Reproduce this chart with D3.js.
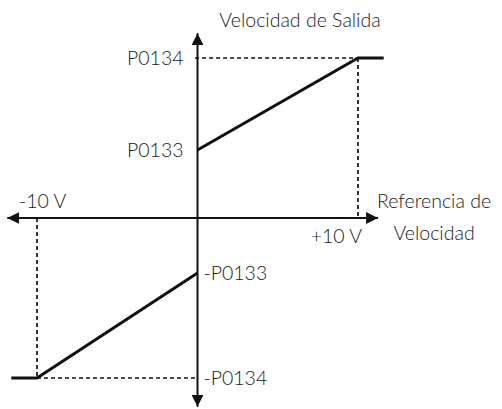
<!DOCTYPE html>
<html>
<head>
<meta charset="utf-8">
<script src="https://cdn.jsdelivr.net/npm/d3@7"></script>
<style>
  html, body { margin: 0; padding: 0; background: #fff; }
  svg text { font-family: Lato, "Open Sans", sans-serif; font-weight: 300; fill: #1a1a1a; }
</style>
</head>
<body>
<div id="chart"></div>
<script>
// Reference voltage (V) and output speed (% of P0134)
const upperCurve = [[0, 42.5], [10, 100], [11.6, 100]]
const lowerCurve = [[-11.6, -100], [-10, -100], [0, -34.4]]
const yLevels = [
  { value: 100, label: "P0134", side: "left" },
  { value: 42.5, label: "P0133", side: "left" },
  { value: -34.4, label: "-P0133", side: "right" },
  { value: -100, label: "-P0134", side: "right" }
]
const xTicks = [
  { value: -10, label: "-10 V" },
  { value: 10, label: "+10 V" }
]
const yAxisTitle = "Velocidad de Salida"
const xAxisTitle = ["Referencia de", "Velocidad"]

const width = 502
const height = 409
const FS = "19.5px"

const x = d3.scaleLinear().domain([-10, 10]).range([37, 358])
const y = d3.scaleLinear().domain([-100, 100]).range([378, 58])

const svg = d3.select("#chart")
  .append("svg")
  .attr("width", width)
  .attr("height", height)

const defs = svg.append("defs")
defs.append("marker")
  .attr("id", "arrow")
  .attr("viewBox", "0 -5 10 10")
  .attr("refX", 10)
  .attr("refY", 0)
  .attr("markerWidth", 6)
  .attr("markerHeight", 6)
  .attr("markerUnits", "strokeWidth")
  .attr("orient", "auto")
  .append("path")
  .attr("d", "M0,-5L10,0L0,5Z")
  .attr("fill", "#111")

// Dashed guides
const g = svg.append("g")
const guides = [
  [[-0.15, 100], [10, 100]],
  [[10, 100], [10, 0]],
  [[-10, 0], [-10, -100]],
  [[-10, -100], [0, -100]]
]
g.selectAll("line.guide")
  .data(guides)
  .join("line")
  .attr("class", "guide")
  .attr("x1", d => x(d[0][0]))
  .attr("y1", d => y(d[0][1]))
  .attr("x2", d => x(d[1][0]))
  .attr("y2", d => y(d[1][1]))
  .attr("stroke", "#111")
  .attr("stroke-width", 1.7)
  .attr("stroke-dasharray", "4,3")

// Axes (arrows at both ends)
const xExt = [-11.85, 11.25]
const yExt = [-118, 115.5]
const axisEnds = [
  [xExt[1], 0], [xExt[0], 0], [0, yExt[1]], [0, yExt[0]]
]
g.selectAll("line.axis")
  .data(axisEnds)
  .join("line")
  .attr("class", "axis")
  .attr("x1", x(0)).attr("y1", y(0))
  .attr("x2", d => x(d[0])).attr("y2", d => y(d[1]))
  .attr("stroke", "#111").attr("stroke-width", 2)
  .attr("marker-end", "url(#arrow)")

// Curve
const line = d3.line().x(d => x(d[0])).y(d => y(d[1]))
g.selectAll("path.curve")
  .data([upperCurve, lowerCurve])
  .join("path")
  .attr("class", "curve")
  .attr("d", line)
  .attr("fill", "none")
  .attr("stroke", "#111")
  .attr("stroke-width", 3)

// Level labels
g.selectAll("text.level")
  .data(yLevels)
  .join("text")
  .attr("class", "level")
  .attr("x", d => d.side === "left" ? x(0) - 14 : x(0) + 6)
  .attr("y", d => y(d.value) + 7)
  .attr("text-anchor", d => d.side === "left" ? "end" : "start")
  .attr("font-size", FS)
  .text(d => d.label)

// Volt labels
g.append("text")
  .attr("x", x(-10) - 18).attr("y", y(0) - 10)
  .attr("font-size", FS)
  .text(xTicks[0].label)
g.append("text")
  .attr("x", x(10) + 4).attr("y", y(0) + 25)
  .attr("text-anchor", "end")
  .attr("font-size", FS)
  .text(xTicks[1].label)

// Axis titles
g.append("text")
  .attr("x", 300).attr("y", 27)
  .attr("text-anchor", "middle")
  .attr("font-size", FS)
  .text(yAxisTitle)
g.selectAll("text.xtitle")
  .data(xAxisTitle)
  .join("text")
  .attr("class", "xtitle")
  .attr("x", 434)
  .attr("y", (d, i) => 208 + i * 32)
  .attr("text-anchor", "middle")
  .attr("font-size", FS)
  .text(d => d)
</script>
</body>
</html>
